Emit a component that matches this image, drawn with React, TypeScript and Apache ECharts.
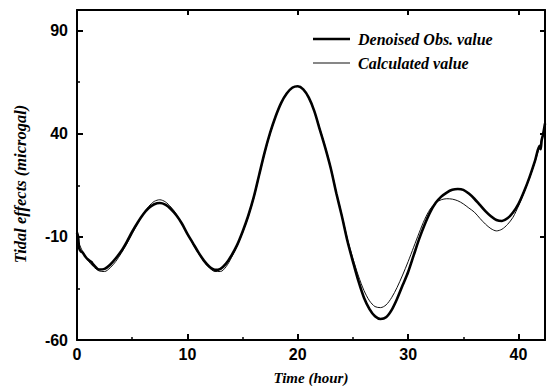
import React, { useEffect, useRef } from "react";
import * as echarts from "echarts";

// Time axis (hours) and tidal effect values (microgal)
const obsHours = [
  0, 0.1, 0.2, 0.35, 0.5, 0.75, 1.0, 1.3, 1.5, 2.0, 2.5, 3.0, 3.5, 4.0, 4.5, 5.0, 5.5, 6.0, 6.5, 7.0, 7.5, 8.0,
  8.5, 9.0, 9.5, 10.0, 10.5, 11.0, 11.5, 12.0, 12.5, 13.0, 13.5, 14.0, 14.5, 15.0, 15.5, 16.0, 16.5, 17.0,
  17.5, 18.0, 18.5, 19.0, 19.5, 20.0, 20.5, 21.0, 21.5, 22.0, 22.5, 23.0, 23.5, 24.0, 24.5, 25.0, 25.5,
  26.0, 26.5, 27.0, 27.5, 28.0, 28.5, 29.0, 29.5, 30.0, 30.5, 31.0, 31.5, 32.0, 32.5, 33.0, 33.5, 34.0,
  34.5, 35.0, 35.5, 36.0, 36.5, 37.0, 37.5, 38.0, 38.5, 39.0, 39.5, 40.0, 40.5, 41.0, 41.5, 41.9, 42.0,
  42.1, 42.2, 42.4,
];
const obsValues = [
  -8, -10, -15.5, -17, -17.5, -19.5, -21, -22.2, -23.5, -25.8, -25.5, -23.5, -20.5, -17, -12.5, -7.5, -3,
  1, 4, 5.8, 6.4, 5.6, 3.5, 0.5, -3.5, -8.5, -13, -17.5, -21.5, -24.5, -26, -25.5, -23, -19, -14, -7.5, 0,
  9, 20, 31, 40.5, 48.5, 55, 59.5, 62.3, 63, 61.5, 57.5, 51, 42, 33, 23, 11, 0, -12, -22, -31.5, -39.5,
  -45, -48.5, -49.8, -49, -45.5, -40, -33.5, -27, -19, -11, -4, 2, 6.5, 9.5, 11.5, 12.8, 13.2, 12.8, 11,
  8.5, 5.5, 2.5, 0, -1.8, -2.3, -1, 1.8, 6, 12, 19, 27, 34, 32.5, 37, 39, 45,
];

const calcHours = [
  0, 0.5, 1.0, 1.5, 2.0, 2.5, 3.0, 3.5, 4.0, 4.5, 5.0, 5.5, 6.0, 6.5, 7.0, 7.5, 8.0, 8.5, 9.0, 9.5, 10.0,
  10.5, 11.0, 11.5, 12.0, 12.5, 13.0, 13.5, 14.0, 14.5, 15.0, 15.5, 16.0, 16.5, 17.0, 17.5, 18.0, 18.5,
  19.0, 19.5, 20.0, 20.5, 21.0, 21.5, 22.0, 22.5, 23.0, 23.5, 24.0, 24.5, 25.0, 25.5, 26.0, 26.5, 27.0,
  27.5, 28.0, 28.5, 29.0, 29.5, 30.0, 30.5, 31.0, 31.5, 32.0, 32.5, 33.0, 33.5, 34.0, 34.5, 35.0, 35.5,
  36.0, 36.5, 37.0, 37.5, 38.0, 38.5, 39.0, 39.5, 40.0, 40.5, 41.0, 41.5, 42.0, 42.4,
];
const calcValues = [
  -11, -17, -21.5, -24.5, -26.5, -26.8, -25, -22, -18, -13.5, -8.5, -3.5, 1, 4.8, 7.2, 8, 7, 4.5, 1, -3.5,
  -8.5, -13.5, -18, -22, -25, -26.8, -26.8, -24.5, -20, -14.5, -8, -0.5, 8.5, 19.5, 30.5, 40, 48.5, 55,
  59.8, 62.5, 63, 61.5, 57.5, 51, 42.5, 33.5, 23.5, 11.5, 0.5, -11, -20.5, -29, -36, -41, -43.8, -44.3,
  -43, -39.5, -34.5, -28.5, -22, -15, -8, -1.5, 3.5, 6.5, 8, 8.5, 8.3, 7.5, 6, 4, 2, -1, -3.8, -6, -7.1,
  -6.3, -4, -0.5, 5, 11.5, 18.5, 26.5, 35.5, 44,
];

const X_MIN = 0;
const X_MAX = 42.4;
const Y_MIN = -60;
const Y_MAX = 100;

const OBS_NAME = "Denoised Obs. value";
const CALC_NAME = "Calculated value";

const pair = (xs: number[], ys: number[]) => xs.map((x, i) => [x, ys[i]]);

const labelFont = {
  color: "#000",
  fontFamily: "Liberation Sans, Arial, sans-serif",
  fontWeight: "bold" as const,
  fontSize: 16,
};
const titleFont = {
  color: "#000",
  fontFamily: "Liberation Serif, Times New Roman, serif",
  fontWeight: "bold" as const,
  fontStyle: "italic" as const,
  fontSize: 15,
};

export default function App() {
  const ref = useRef<HTMLDivElement>(null);

  useEffect(() => {
    if (!ref.current) return;
    const chart = echarts.init(ref.current, undefined, { renderer: "svg" });

    const lineStyle = { color: "#000", width: 2 };
    const hidden = { show: false };
    const frameLine = { onZero: false, lineStyle };

    chart.setOption({
      animation: false,
      backgroundColor: "#fff",
      grid: { left: 77, right: 3, top: 10, bottom: 46, containLabel: false },
      legend: {
        left: 313,
        top: 31,
        padding: 0,
        orient: "vertical",
        itemWidth: 37,
        itemHeight: 14,
        itemGap: 8,
        textStyle: { ...titleFont, fontSize: 16, padding: [0, 0, 0, 3] },
        data: [
          { name: OBS_NAME, icon: "path://M0,0H37V2.6H0Z", itemStyle: { color: "#000" } },
          { name: CALC_NAME, icon: "path://M0,0H37V1H0Z", itemStyle: { color: "#111" } },
        ],
      },
      xAxis: [
        {
          type: "value",
          position: "bottom",
          min: X_MIN,
          max: X_MAX,
          interval: 10,
          name: "Time (hour)",
          nameLocation: "middle",
          nameGap: 30,
          nameTextStyle: titleFont,
          axisLine: frameLine,
          axisTick: { inside: true, length: 6, lineStyle },
          axisLabel: { ...labelFont, margin: 6, showMaxLabel: false },
          splitLine: hidden,
        },
        {
          type: "value",
          position: "bottom",
          min: X_MIN,
          max: X_MAX,
          interval: 5,
          axisLine: { show: false, onZero: false },
          axisTick: { inside: true, length: 3, lineStyle: { color: "#000", width: 1.5 } },
          axisLabel: hidden,
          splitLine: hidden,
        },
        {
          type: "value",
          position: "top",
          min: X_MIN,
          max: X_MAX,
          interval: 10,
          axisLine: frameLine,
          axisTick: { inside: true, length: 5, lineStyle },
          axisLabel: hidden,
          splitLine: hidden,
        },
      ],
      yAxis: [
        {
          type: "value",
          position: "left",
          min: Y_MIN,
          max: Y_MAX,
          interval: 50,
          name: "Tidal effects (microgal)",
          nameLocation: "middle",
          nameGap: 48,
          nameTextStyle: { ...titleFont, fontSize: 16.5, padding: [0, 18, 0, 0] },
          axisLine: frameLine,
          axisTick: { inside: true, length: 6, lineStyle },
          axisLabel: { ...labelFont, margin: 9, showMaxLabel: false },
          splitLine: hidden,
        },
        {
          type: "value",
          position: "left",
          min: Y_MIN,
          max: Y_MAX,
          interval: 25,
          axisLine: { show: false, onZero: false },
          axisTick: { inside: true, length: 3, lineStyle: { color: "#000", width: 1.5 } },
          axisLabel: hidden,
          splitLine: hidden,
        },
        {
          type: "value",
          position: "right",
          min: Y_MIN,
          max: Y_MAX,
          interval: 50,
          axisLine: frameLine,
          axisTick: { inside: true, length: 5, lineStyle },
          axisLabel: hidden,
          splitLine: hidden,
        },
      ],
      series: [
        {
          name: OBS_NAME,
          type: "line",
          xAxisIndex: 0,
          yAxisIndex: 0,
          symbol: "none",
          smooth: 0.3,
          data: pair(obsHours, obsValues),
          lineStyle: { color: "#000", width: 2.6 },
          itemStyle: { color: "#000" },
          z: 3,
        },
        {
          name: CALC_NAME,
          type: "line",
          xAxisIndex: 0,
          yAxisIndex: 0,
          symbol: "none",
          smooth: 0.3,
          data: pair(calcHours, calcValues),
          lineStyle: { color: "#111", width: 1 },
          itemStyle: { color: "#111" },
          z: 2,
        },
      ],
    });

    return () => chart.dispose();
  }, []);

  return <div ref={ref} style={{ width: 548, height: 390, position: "absolute", left: 0, top: 0 }} />;
}
